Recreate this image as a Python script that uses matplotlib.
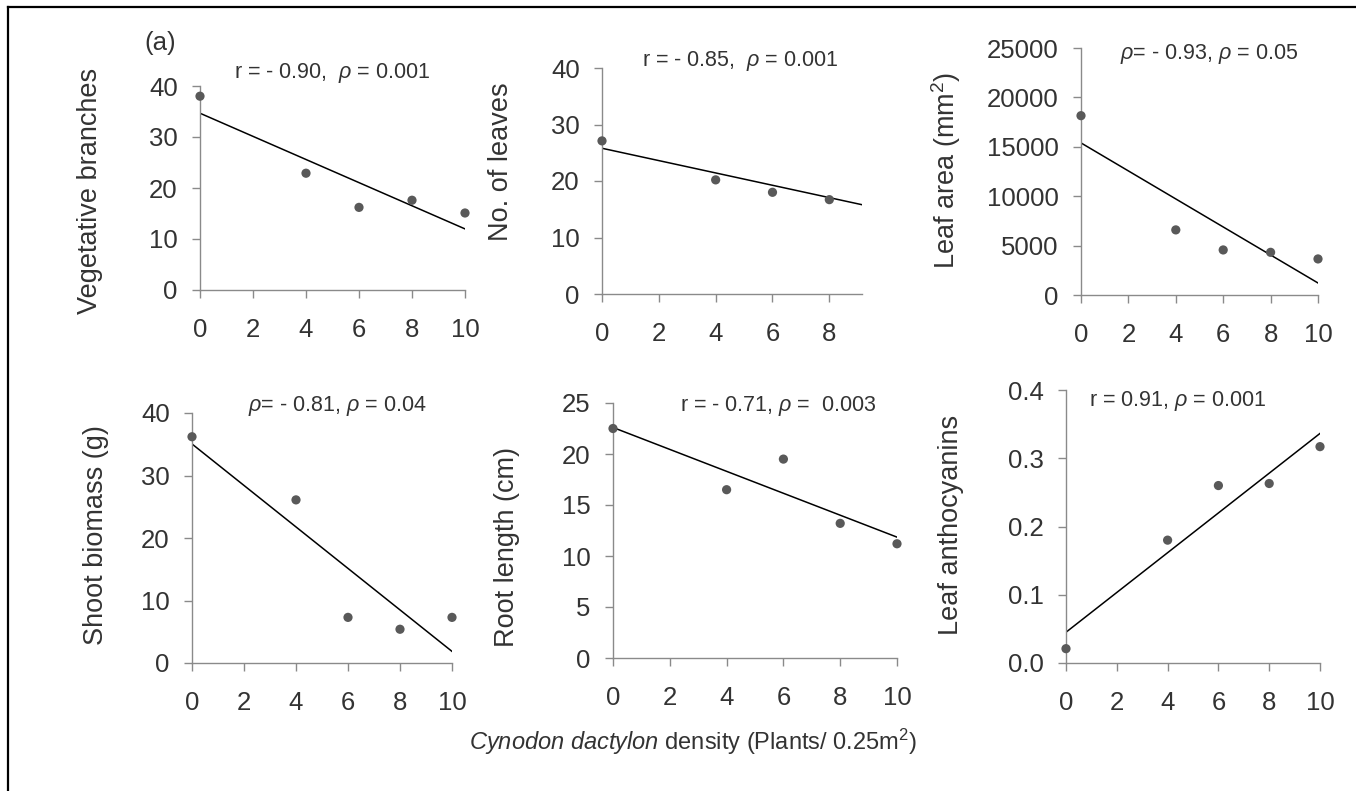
import numpy as np
import matplotlib
matplotlib.use("Agg")
import matplotlib.pyplot as plt
from matplotlib.lines import Line2D
from matplotlib.ticker import FormatStrFormatter

plt.rcParams['font.family'] = ['Liberation Sans', 'DejaVu Sans']
plt.rcParams['mathtext.fontset'] = 'custom'
plt.rcParams['mathtext.rm'] = 'Liberation Sans'
plt.rcParams['mathtext.it'] = 'Liberation Sans:italic'
plt.rcParams['mathtext.bf'] = 'Liberation Sans:bold'

# Cynodon dactylon density (plants / 0.25 m2)
density = [0, 4, 6, 8, 10]

# Crop responses at each weed density
vegetative_branches = [38.0, 22.9, 16.2, 17.6, 15.1]
leaf_number = [27.1, 20.2, 18.0, 16.7, 16.4]
leaf_area = [18150, 6590, 4560, 4320, 3650]
shoot_biomass = [36.2, 26.1, 7.3, 5.4, 7.3]
root_length = [22.5, 16.5, 19.5, 13.2, 11.2]
leaf_anthocyanins = [0.021, 0.180, 0.260, 0.263, 0.317]

y_labels = ["Vegetative branches", "No. of leaves", "Leaf area (mm$^2$)",
            "Shoot biomass (g)", "Root length (cm)", "Leaf anthocyanins"]
stat_labels = ["r = - 0.90,  $\\rho$ = 0.001",
               "r = - 0.85,  $\\rho$ = 0.001",
               "$\\rho$= - 0.93, $\\rho$ = 0.05",
               "$\\rho$= - 0.81, $\\rho$ = 0.04",
               "r = - 0.71, $\\rho$ =  0.003",
               "r = 0.91, $\\rho$ = 0.001"]
y_ticks = [[0, 10, 20, 30, 40],
           [0, 10, 20, 30, 40],
           [0, 5000, 10000, 15000, 20000, 25000],
           [0, 10, 20, 30, 40],
           [0, 5, 10, 15, 20, 25],
           [0.0, 0.1, 0.2, 0.3, 0.4]]
x_ticks = [0, 2, 4, 6, 8, 10]
x_limits = [10, 9.15, 10, 10, 10, 10]
panel_tag = "(a)"
x_title = "$\\it{Cynodon\\ dactylon}$ density (Plants/ 0.25m$^2$)"

series = [vegetative_branches, leaf_number, leaf_area,
          shoot_biomass, root_length, leaf_anthocyanins]

W, H = 1356, 791
fig = plt.figure(figsize=(W / 100, H / 100), dpi=100)
fig.patch.set_facecolor("white")

# axes frames in pixels: (left, right, top, bottom)
frames = [(200, 465, 86, 290), (602, 862, 68, 294), (1081, 1318, 48, 295),
          (192, 452, 413, 663), (613, 897, 403, 658), (1066, 1320, 390, 663)]
ylabel_pos = [(90, 191), (501, 162), (946, 170), (96, 535), (507, 547), (951, 525)]
stat_pos = [(332, 73), (740, 61), (1209, 54), (337, 406), (778, 406), (1177, 401)]

text_color = "#333333"
spine_color = "#8a8a8a"
marker_color = "#595959"

for i, values in enumerate(series):
    l, r, t, b = frames[i]
    ax = fig.add_axes([l / W, 1 - b / H, (r - l) / W, (b - t) / H])
    x = np.array(density, dtype=float)
    y = np.array(values, dtype=float)
    xmax = x_limits[i]

    slope, intercept = np.polyfit(x, y, 1)
    xs = np.array([0.0, 10.0])
    ax.plot(xs, intercept + slope * xs, color="black", lw=1.1, zorder=2)

    visible = x <= xmax
    ax.scatter(x[visible], y[visible], s=44, color=marker_color,
               edgecolors="none", zorder=3, clip_on=False)

    ax.set_xlim(0, xmax)
    ax.set_ylim(y_ticks[i][0], y_ticks[i][-1])
    ax.set_xticks([v for v in x_ticks if v <= xmax])
    ax.set_yticks(y_ticks[i])
    if i == 5:
        ax.yaxis.set_major_formatter(FormatStrFormatter("%.1f"))

    for side in ("top", "right"):
        ax.spines[side].set_visible(False)
    for side in ("left", "bottom"):
        ax.spines[side].set_color(spine_color)
        ax.spines[side].set_linewidth(1.0)
    ax.tick_params(axis="both", direction="out", length=6, width=1.0,
                   color=spine_color, labelsize=18.5, labelcolor=text_color)
    ax.tick_params(axis="y", pad=10)
    ax.tick_params(axis="x", pad=14)
    ax.patch.set_alpha(0)

    fig.text(ylabel_pos[i][0] / W, 1 - ylabel_pos[i][1] / H, y_labels[i],
             rotation=90, ha="center", va="center", fontsize=19.5,
             color=text_color)
    fig.text(stat_pos[i][0] / W, 1 - stat_pos[i][1] / H, stat_labels[i],
             ha="center", va="center", fontsize=15.5, color=text_color)

fig.text(160 / W, 1 - 43 / H, panel_tag, ha="center", va="center",
         fontsize=18.5, color=text_color)
fig.text(693 / W, 1 - 742 / H, x_title, ha="center", va="center",
         fontsize=17, color=text_color)

# frame lines along the top and left edges
fig.add_artist(Line2D([8 / W, 1.0], [1 - 7 / H, 1 - 7 / H], color="black",
                      lw=1.6, transform=fig.transFigure))
fig.add_artist(Line2D([8 / W, 8 / W], [1 - 7 / H, 0.0], color="black",
                      lw=1.6, transform=fig.transFigure))

fig.savefig("out.png", dpi=100, facecolor="white")
